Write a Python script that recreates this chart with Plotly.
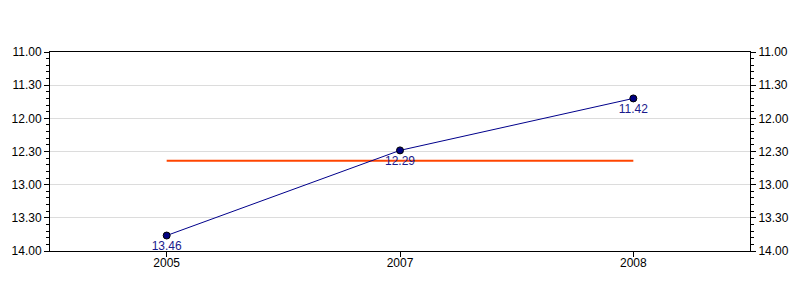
import plotly.graph_objects as go

years = ["2005", "2007", "2008"]
time_labels = ["13.46", "12.29", "11.42"]   # mm.ss
avg_minutes = 12.64
y_tick_labels = ["11.00", "11.30", "12.00", "12.30", "13.00", "13.30", "14.00"]

def to_minutes(s):
    m, sec = s.split(".")
    return int(m) + int(sec) / 60.0

values = [to_minutes(t) for t in time_labels]
tick_vals = [to_minutes(t) for t in y_tick_labels]

font = dict(family="Liberation Sans, Arial, sans-serif", size=12, color="#000000")

fig = go.Figure()
fig.add_trace(go.Scatter(
    x=[years[0], years[-1]], y=[avg_minutes, avg_minutes], mode="lines",
    line=dict(color="#FF4500", width=2), hoverinfo="skip", showlegend=False))
fig.add_trace(go.Scatter(
    x=years, y=values, mode="lines+markers+text",
    text=time_labels, textposition="bottom center",
    textfont=dict(family=font["family"], size=12, color="#1a1a8c"),
    line=dict(color="#00008B", width=1),
    marker=dict(size=7, color="#000080", line=dict(color="#000000", width=1)),
    showlegend=False))
fig.add_trace(go.Scatter(x=years, y=values, yaxis="y2", mode="markers",
                         marker=dict(opacity=0), hoverinfo="skip", showlegend=False))

yax = dict(range=[14, 11], tickvals=tick_vals, ticktext=y_tick_labels,
           ticks="outside", ticklen=5, tickcolor="#000", tickwidth=1,
           showline=True, linecolor="#000", linewidth=1,
           showgrid=True, gridcolor="#dcdcdc", gridwidth=1, zeroline=False,
           minor=dict(dtick=0.1, tick0=11, ticks="outside", ticklen=3, tickcolor="#000", showgrid=False),
           tickfont=font)

fig.update_layout(
    width=800, height=300, margin=dict(l=50, r=50, t=52, b=49),
    paper_bgcolor="#ffffff", plot_bgcolor="#ffffff",
    xaxis=dict(type="category", categoryorder="array", categoryarray=years,
               range=[-0.5, 2.5], ticks="outside", ticklen=5, ticklabelstandoff=-4,
               tickcolor="#000", showline=True, linecolor="#000", linewidth=1,
               mirror=True, showgrid=False, tickfont=font),
    yaxis=yax,
    yaxis2=dict(yax, overlaying="y", side="right", matches="y", showgrid=False),
)

fig.write_html("out.html")
